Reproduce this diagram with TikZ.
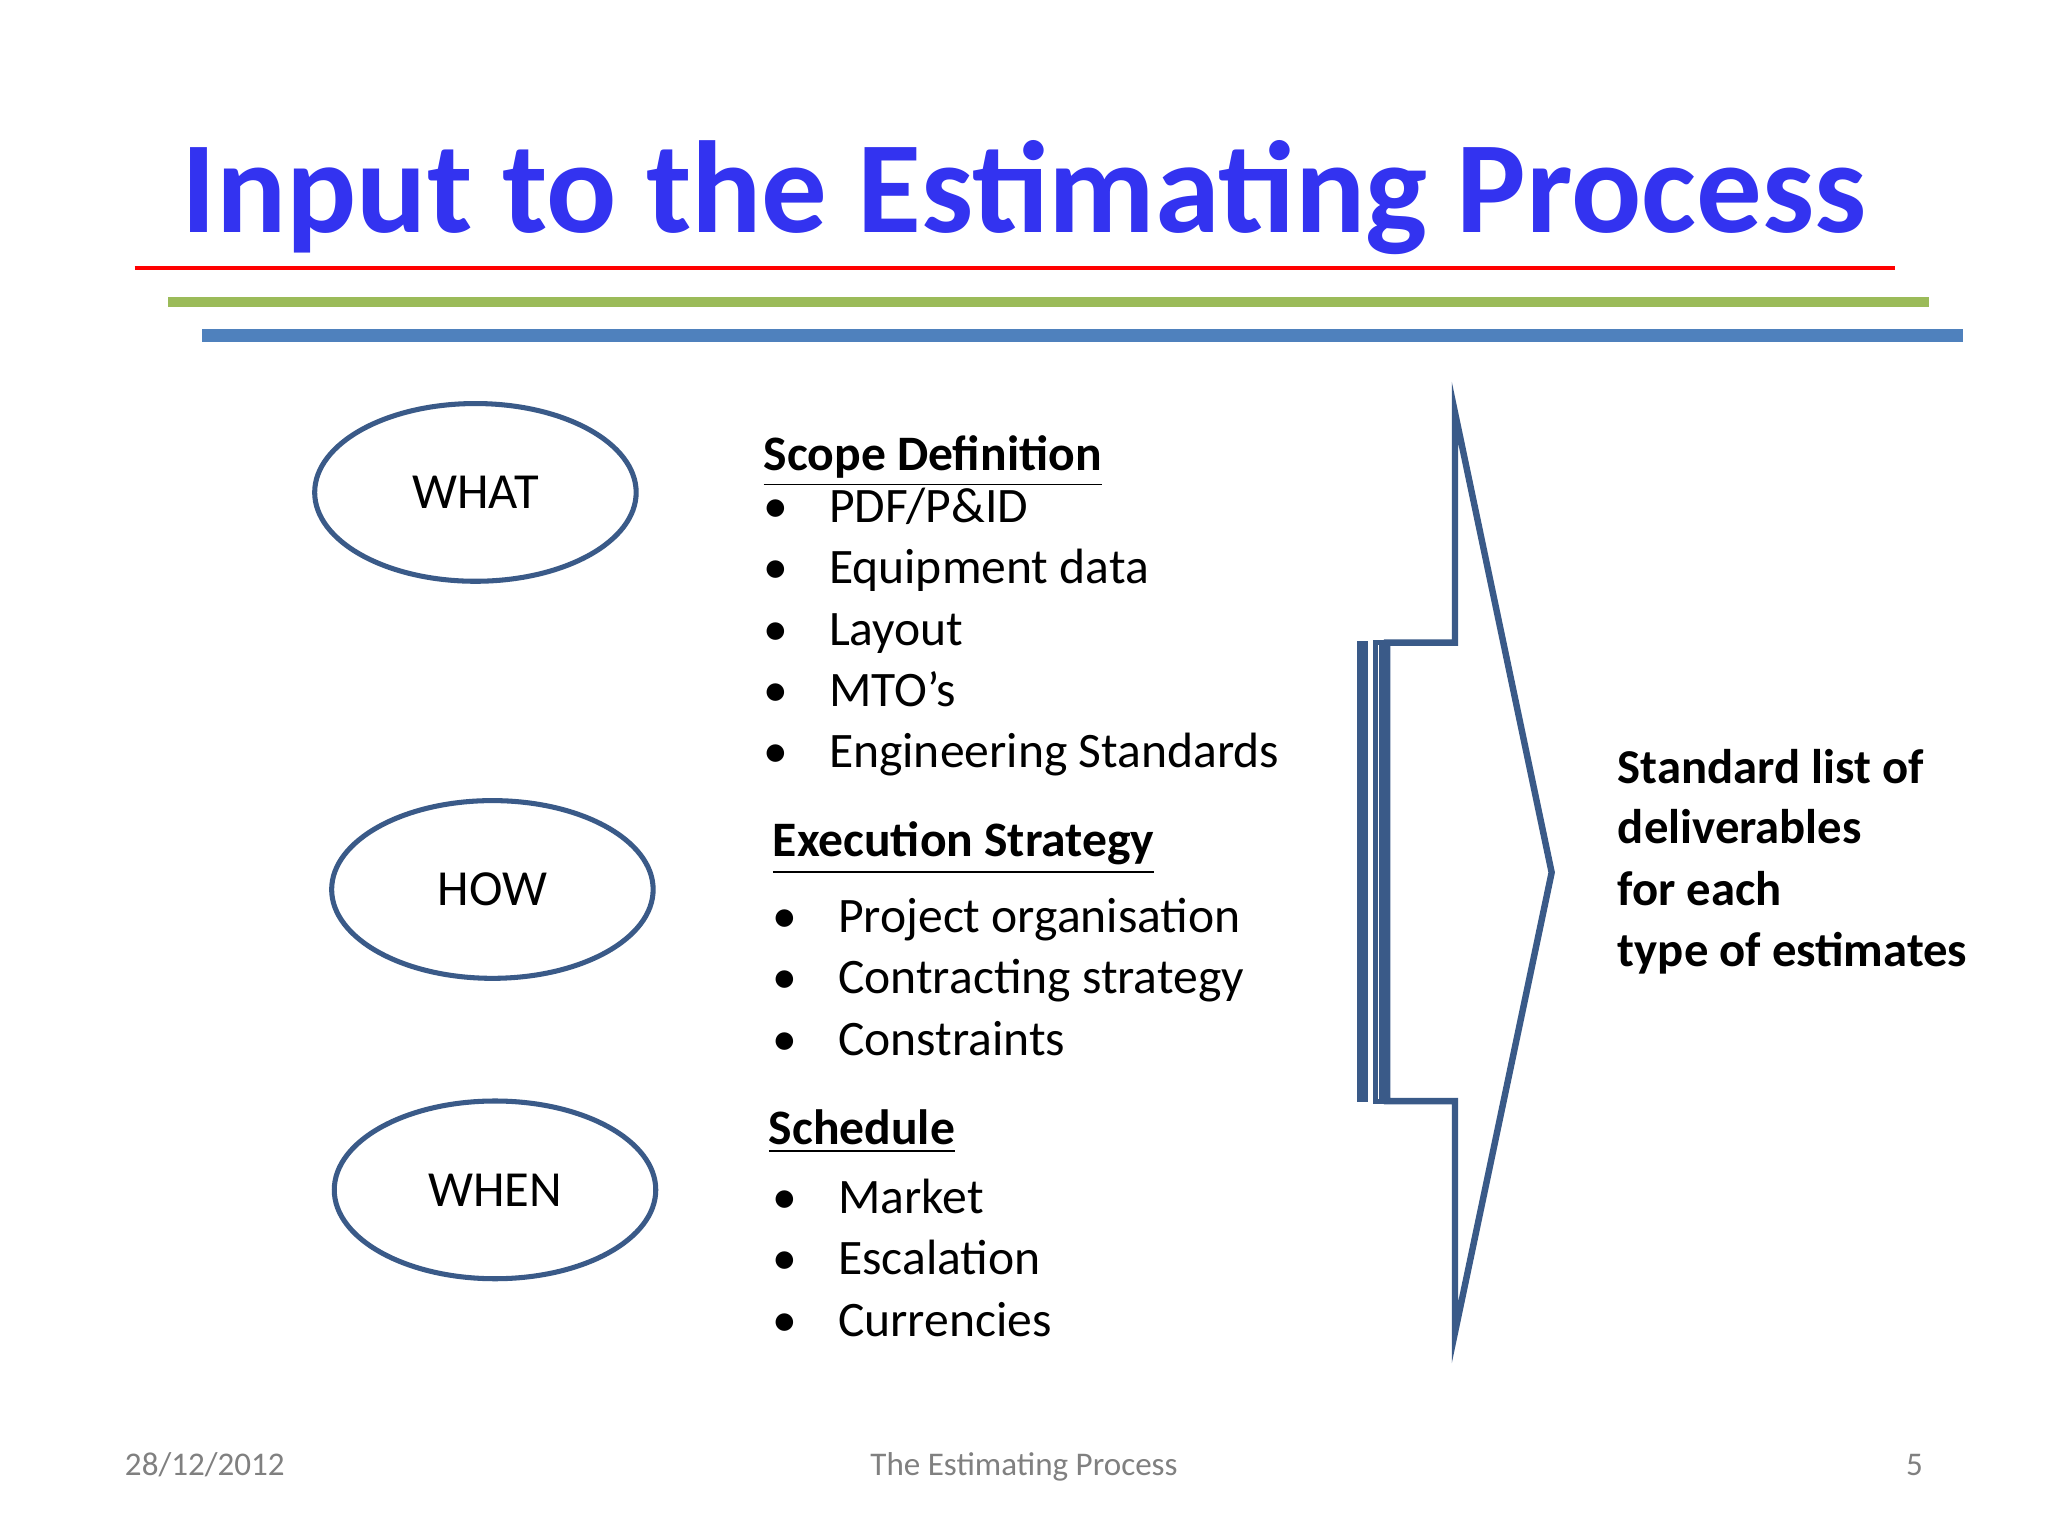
\documentclass[tikz,border=0pt]{standalone}
\usepackage{fontspec}
\setmainfont{Carlito}
\usetikzlibrary{shapes.geometric}
\begin{document}
\begin{tikzpicture}[x=0.01cm,y=-0.01cm,
  ell/.style={draw=ebl,line width=1.1pt,ellipse,minimum width=2.46cm,minimum height=1.36cm,inner sep=0pt,font=\fontsize{11}{13}\selectfont},
  it/.style={anchor=base west,inner sep=0pt,font=\fontsize{10.8}{13}\selectfont},
  hd/.style={anchor=base west,inner sep=0pt,font=\fontsize{10.8}{13}\selectfont\bfseries},
  rt/.style={anchor=base west,inner sep=0pt,font=\fontsize{10.6}{13}\selectfont\bfseries},
  ft/.style={inner sep=0pt,text=gray,font=\fontsize{7.2}{9}\selectfont}]
\definecolor{ebl}{HTML}{3A5A88}
\definecolor{tblue}{HTML}{3333F0}
\definecolor{lgreen}{HTML}{9BBB59}
\definecolor{lblue}{HTML}{4F81BD}
\useasboundingbox[fill=white] (0,0) rectangle (1568,1176);
\node[anchor=base,inner sep=0pt,text=tblue,font=\fontsize{28.5}{32}\selectfont\bfseries] (title) at (784,178) {Input to the Estimating Process};
\draw[red,line width=0.8pt] (103,205) -- (1451,205);
\draw[lgreen,line width=2.2pt] (129,231) -- (1477,231);
\draw[lblue,line width=2.8pt] (155,257) -- (1503,257);
\node[ell] (what) at (364,377) {WHAT};
\node[ell] (how) at (377,681) {HOW};
\node[ell] (when) at (379,911) {WHEN};
\node[hd] (h1) at (584,360) {\underline{Scope Definition}};
\foreach \t [count=\i] in {PDF/P\&ID,Equipment data,Layout,MTO’s,Engineering Standards}{
  \node[it] (b1\i) at (584,353+47*\i) {\textbullet};
  \node[it] (s1\i) at (634,353+47*\i) {\t};}
\node[hd] (h2) at (591,656) {\underline{Execution Strategy}};
\foreach \t [count=\i] in {Project organisation,Contracting strategy,Constraints}{
  \node[it] (b2\i) at (591,667+47*\i) {\textbullet};
  \node[it] (s2\i) at (641,667+47*\i) {\t};}
\node[hd] (h3) at (588,876) {\underline{Schedule}};
\foreach \t [count=\i] in {Market,Escalation,Currencies}{
  \node[it] (b3\i) at (591,882+47*\i) {\textbullet};
  \node[it] (s3\i) at (641,882+47*\i) {\t};}
\fill[ebl] (1039,491) rectangle (1047,844);
\draw[ebl,line width=1.1pt] (1053,492) rectangle (1058,843);
\draw[ebl,line width=1.4pt,line join=miter] (1114,316) -- (1114,492) -- (1062,492) -- (1062,843) -- (1114,843) -- (1114,1020) -- (1188,668) -- cycle;
\node[rt] (r1) at (1238,600) {Standard list of};
\node[rt] (r2) at (1238,646) {deliverables};
\node[rt] (r3) at (1238,693) {for each};
\node[rt] (r4) at (1238,740) {type of estimates};
\node[ft,anchor=base west] (d) at (95,1130) {28/12/2012};
\node[ft,anchor=base] (f) at (784,1130) {The Estimating Process};
\node[ft,anchor=base east] (p) at (1473,1130) {5};
\end{tikzpicture}
\end{document}
